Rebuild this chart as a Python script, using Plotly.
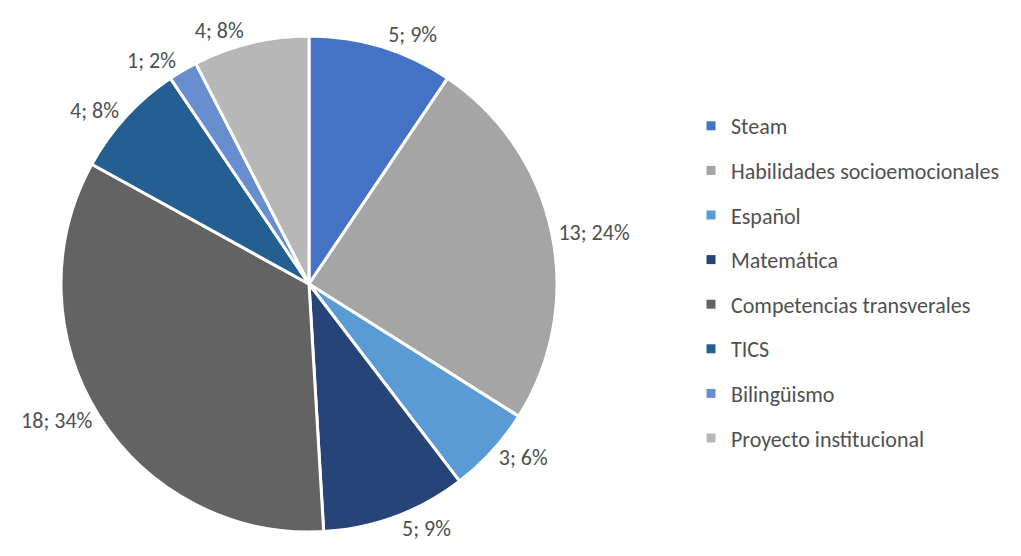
import plotly.graph_objects as go

categories = ["Steam", "Habilidades socioemocionales", "Español", "Matemática",
              "Competencias transverales", "TICS", "Bilingüismo", "Proyecto institucional"]
values = [5, 13, 3, 5, 18, 4, 1, 4]
percent_labels = [9, 24, 6, 9, 34, 8, 2, 8]  # as printed on the chart (sum 100)
colors = ["#4472C4", "#A5A5A5", "#5B9BD5", "#264478", "#636363", "#255E91", "#698ED0", "#B7B7B7"]

W, H = 1021, 556
FONT = "Carlito, Calibri, Lato, sans-serif"
TXT = "#505050"

fig = go.Figure()
fig.add_trace(go.Pie(
    labels=categories, values=values, sort=False, direction="clockwise", rotation=0,
    customdata=percent_labels,
    marker=dict(colors=colors, line=dict(color="white", width=3)),
    textposition="outside", texttemplate="%{value}; %{customdata}%",
    textfont=dict(family=FONT, size=22, color=TXT),
    domain=dict(x=[52 / W, 550 / W], y=[1 - 524 / H, 1 - 28 / H]),
    showlegend=False, hoverinfo="label+value+percent",
))
for i, (c, col) in enumerate(zip(categories, colors)):
    fig.add_trace(go.Scatter(
        x=[None], y=[None], mode="markers", name=c, legendgroup=str(i),
        marker=dict(symbol="square", size=9, color=col), showlegend=True,
    ))

fig.update_layout(
    width=W, height=H, margin=dict(l=0, r=0, t=0, b=0),
    paper_bgcolor="white", plot_bgcolor="white",
    xaxis=dict(visible=False), yaxis=dict(visible=False),
    legend=dict(x=683 / W, xanchor="left", y=1 - 97 / H, yanchor="top",
                font=dict(family=FONT, size=22, color=TXT),
                tracegroupgap=13, bgcolor="rgba(0,0,0,0)"),
)
fig.write_html("out.html")
